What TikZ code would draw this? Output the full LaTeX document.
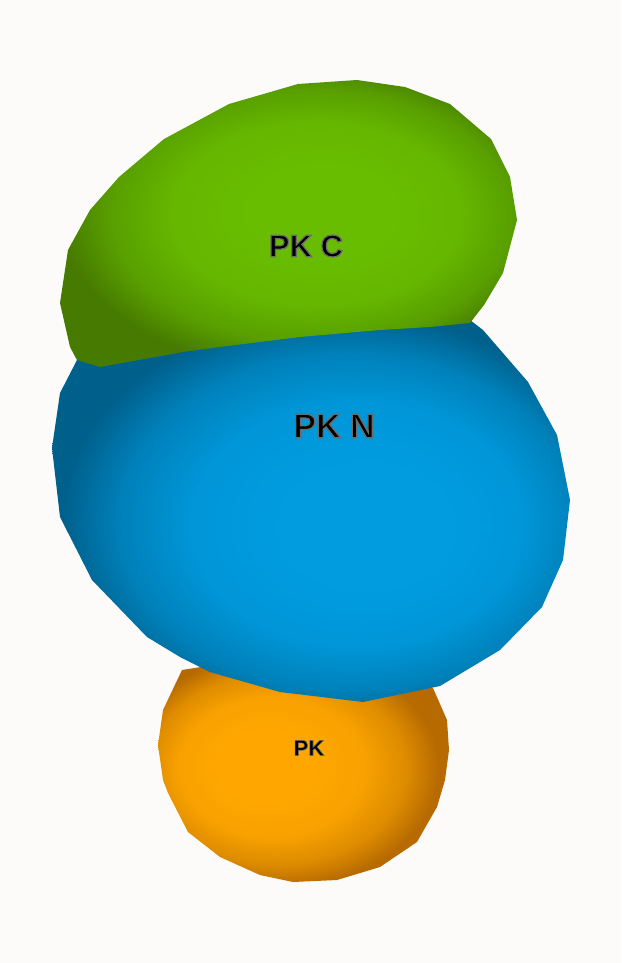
\documentclass[tikz,border=0pt]{standalone}
\usepackage{fontspec}
\setmainfont{Liberation Sans}
\definecolor{bg}{RGB}{252,251,250}
\definecolor{gA}{RGB}{104,189,0}
\definecolor{gB}{RGB}{70,122,0}
\definecolor{bA}{RGB}{0,156,224}
\definecolor{bB}{RGB}{0,96,140}
\definecolor{oA}{RGB}{255,167,0}
\definecolor{oB}{RGB}{182,106,0}
\pgfdeclareradialshading{gshade}{\pgfpoint{4.5bp}{2.5bp}}{color(0bp)=(gA); color(8bp)=(gA); color(16bp)=(gA!90!gB); color(22bp)=(gA!55!gB); color(27bp)=(gB); color(50bp)=(gB)}
\pgfdeclareradialshading{bshade}{\pgfpoint{6.5bp}{-2.5bp}}{color(0bp)=(bA); color(8bp)=(bA); color(16bp)=(bA!90!bB); color(22bp)=(bA!55!bB); color(27bp)=(bB); color(50bp)=(bB)}
\pgfdeclareradialshading{oshade}{\pgfpoint{-8bp}{2bp}}{color(0bp)=(oA); color(8bp)=(oA); color(16bp)=(oA!90!oB); color(22bp)=(oA!55!oB); color(27bp)=(oB); color(50bp)=(oB)}
\newcommand{\outlinedtext}[2]{\special{pdf:literal direct 2 Tr #1 w 0.42 0.42 0.42 RG}#2\special{pdf:literal direct 0 Tr}}
\begin{document}
\begin{tikzpicture}[x=1pt,y=-1pt,
  lbl/.style={inner sep=0pt, text=black}]
\fill[bg] (0,0) rectangle (621,963);
\useasboundingbox (0,0) rectangle (621,963);
% orange blob (bottom)
\shade[shading=oshade] (182,670) -- (163,710) -- (158,745) -- (163,780) -- (168,793) -- (188,832) -- (220,857) -- (260,875) -- (293,882) -- (337,880) -- (380,867) -- (417,842) -- (437,807) -- (445,780) -- (449,750) -- (447,720) -- (433,688) -- (400,678) -- (300,668) -- (220,664) -- cycle;
% blue blob (middle)
\shade[shading=bshade] (77,360) -- (60,393) -- (52,448) -- (60,517) -- (92,580) -- (147,637) -- (180,657) -- (210,672) -- (280,692) -- (363,702) -- (440,686) -- (500,650) -- (542,607) -- (563,560) -- (570,500) -- (557,435) -- (528,382) -- (483,330) -- (470,320) -- (400,320) -- (300,328) -- (200,340) -- (120,352) -- cycle;
% green blob (top)
\shade[shading=gshade] (119,177) -- (164,139) -- (229,104) -- (298,84) -- (357,80) -- (405,87) -- (450,104) -- (491,139) -- (510,177) -- (517,220) -- (503,273) -- (484,305) -- (470,323) -- (430,327) -- (380,330) -- (300,337) -- (220,347) -- (183,352) -- (100,367) -- (77,360) -- (70,347) -- (60,303) -- (68,250) -- (90,210) -- cycle;
% labels
\node[lbl, font=\fontsize{31}{31}\selectfont\bfseries] (pkc) at (306,246) {\outlinedtext{1.2}{PK C}};
\node[lbl, font=\fontsize{34}{34}\selectfont\bfseries] (pkn) at (334,426) {\outlinedtext{1.3}{PK N}};
\node[lbl, font=\fontsize{22}{22}\selectfont\bfseries] (pk) at (309,748) {\outlinedtext{0.6}{PK}};
\end{tikzpicture}
\end{document}
